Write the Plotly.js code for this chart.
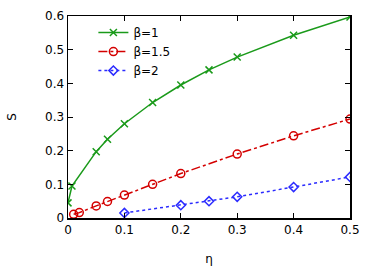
<!DOCTYPE html>
<html><head><meta charset="utf-8">
<script src="https://cdn.plot.ly/plotly-3.0.1.min.js"></script>
<style>html,body{margin:0;padding:0;background:#fff}#c{width:374px;height:267px}</style>
</head><body><div id="c"></div>
<script>
const etaB1 = [0, 0.007, 0.05, 0.07, 0.1, 0.15, 0.2, 0.25, 0.3, 0.4, 0.5];
const sB1 = [0.045, 0.095, 0.197, 0.234, 0.28, 0.343, 0.395, 0.44, 0.478, 0.543, 0.597];
const etaB15 = [0.01, 0.02, 0.05, 0.07, 0.1, 0.15, 0.2, 0.3, 0.4, 0.5];
const sB15 = [0.011, 0.016, 0.036, 0.049, 0.068, 0.1, 0.132, 0.19, 0.244, 0.294];
const etaB2 = [0.1, 0.2, 0.25, 0.3, 0.4, 0.5];
const sB2 = [0.015, 0.038, 0.05, 0.063, 0.092, 0.122];
const names = ['β=1', 'β=1.5', 'β=2'];
const xTicks = [0, 0.1, 0.2, 0.3, 0.4, 0.5];
const xTickText = ['0', '0.1', '0.2', '0.3', '0.4', '0.5'];
const yTicks = [0, 0.1, 0.2, 0.3, 0.4, 0.5, 0.6];
const yTickText = ['0', '0.1', '0.2', '0.3', '0.4', '0.5', '0.6'];

const green = '#1a9a1a', red = '#d40000', blue = '#2b2bff';
const traces = [
  {x: etaB1, y: sB1, name: names[0], mode: 'lines+markers',
   line: {color: green, width: 1.5, dash: 'solid'},
   marker: {symbol: 'x-thin-open', size: 7, color: green, line: {color: green, width: 1.5}}},
  {x: etaB15, y: sB15, name: names[1], mode: 'lines+markers',
   line: {color: red, width: 1.5, dash: 'dashdot'},
   marker: {symbol: 'circle-open', size: 8, color: red, line: {color: red, width: 1.5}}},
  {x: etaB2, y: sB2, name: names[2], mode: 'lines+markers',
   line: {color: blue, width: 1.5, dash: 'dot'},
   marker: {symbol: 'diamond-open', size: 7, color: blue, line: {color: blue, width: 1.5}}}
];
const axisCommon = {showgrid: false, zeroline: false, showline: true, mirror: 'ticks',
  linecolor: '#000', linewidth: 1.5, ticks: 'inside', ticklen: 5, tickcolor: '#000',
  tickfont: {size: 12, color: '#000'}};
const layout = {
  width: 374, height: 267,
  margin: {l: 68, r: 24, t: 16, b: 49},
  paper_bgcolor: '#fff', plot_bgcolor: '#fff',
  font: {family: 'DejaVu Sans', size: 12, color: '#000'},
  showlegend: true,
  legend: {x: 0.09, y: 0.99, xanchor: 'left', yanchor: 'top', bgcolor: 'rgba(0,0,0,0)',
    font: {size: 12}, tracegroupgap: 0, itemwidth: 30},
  xaxis: Object.assign({}, axisCommon, {range: [0, 0.5], tickvals: xTicks, ticktext: xTickText,
    title: {text: 'η', font: {size: 12}, standoff: 18}}),
  yaxis: Object.assign({}, axisCommon, {range: [0, 0.6], tickvals: yTicks, ticktext: yTickText,
    title: {text: 'S', font: {size: 12}, standoff: 26}})
};
Plotly.newPlot('c', traces, layout, {displayModeBar: false, staticPlot: true});
</script></body></html>
